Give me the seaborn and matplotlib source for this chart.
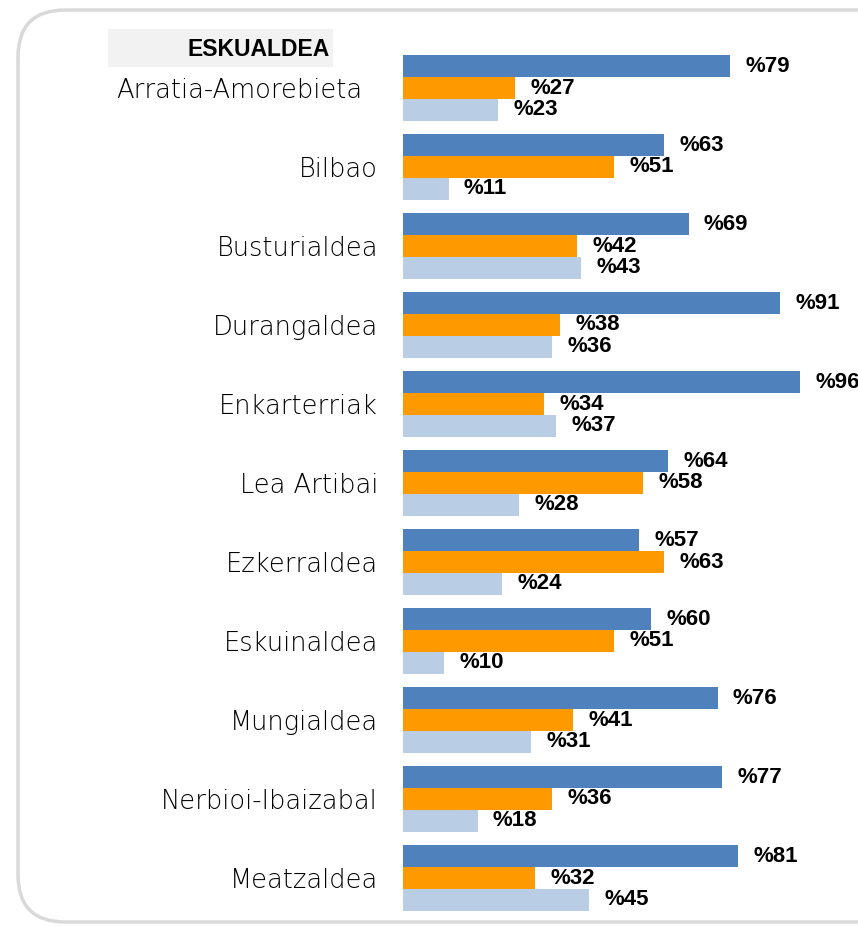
import pandas as pd
import numpy as np
import matplotlib
matplotlib.use("Agg")
import matplotlib.pyplot as plt
import seaborn as sns
from matplotlib.patches import FancyBboxPatch, Rectangle
from matplotlib.transforms import ScaledTranslation

regions = ['Arratia-Amorebieta', 'Bilbao', 'Busturialdea', 'Durangaldea', 'Enkarterriak',
           'Lea Artibai', 'Ezkerraldea', 'Eskuinaldea', 'Mungialdea', 'Nerbioi-Ibaizabal',
           'Meatzaldea']
series_names = ['s1', 's2', 's3']
s1_values = [79, 63, 69, 91, 96, 64, 57, 60, 76, 77, 81]
s2_values = [27, 51, 42, 38, 34, 58, 63, 51, 41, 36, 32]
s3_values = [23, 11, 43, 36, 37, 28, 24, 10, 31, 18, 45]
colors = ['#4f81bd', '#ff9900', '#b9cde5']

df = pd.DataFrame({
    'region': regions * 3,
    'series': np.repeat(series_names, len(regions)),
    'value': s1_values + s2_values + s3_values,
})

sns.set_theme(style='white')
plt.rcParams['font.family'] = ['DejaVu Sans']

W, H = 858, 926
fig = plt.figure(figsize=(W / 100, H / 100), dpi=100)

# rounded frame
frame = FancyBboxPatch((18 / W, 1 - 922 / H), (960 - 18) / W, (922 - 10) / H,
                       boxstyle='round,pad=0,rounding_size=0.055',
                       transform=fig.transFigure, fill=False,
                       edgecolor='#d9d9d9', linewidth=2.5, mutation_aspect=W / H)
fig.patches.append(frame)

# header box
fig.patches.append(Rectangle((108 / W, 1 - 67 / H), (333 - 108) / W, (67 - 29) / H,
                             transform=fig.transFigure, facecolor='#f2f2f2', edgecolor='none'))
fig.text(330 / W, 1 - 50 / H, 'ESKUALDEA', ha='right', va='center', fontsize=16.5,
         fontweight='bold', family='Liberation Sans', color='black')

ax = fig.add_axes([403 / W, 0, (W - 403) / W, 1])
sns.barplot(data=df, y='region', x='value', hue='series', orient='h', palette=colors,
            width=0.835, ax=ax, legend=False, linewidth=0, saturation=1)

pitch = 79
ax.set_xlim(0, (W - 403) / 4.14)
ax.set_ylim((H - 88) / pitch, -88 / pitch)

for cont, vals in zip(ax.containers, [s1_values, s2_values, s3_values]):
    ax.bar_label(cont, labels=[f'%{v}' for v in vals], padding=11, fontsize=16,
                 fontweight='bold', family='Liberation Sans', color='black',
                 clip_on=False)

ax.set_xlabel('')
ax.set_ylabel('')
ax.set_xticks([])
ax.tick_params(axis='y', length=0, pad=18)
for i, lab in enumerate(ax.get_yticklabels()):
    lab.set_fontsize(18.5)
    lab.set_fontweight('light')
    lab.set_color('black')
    if i == 0:
        lab.set_transform(lab.get_transform() + ScaledTranslation(-0.16, 0, fig.dpi_scale_trans))
for s in ax.spines.values():
    s.set_visible(False)
ax.patch.set_alpha(0)

fig.savefig('out.png', dpi=100)
